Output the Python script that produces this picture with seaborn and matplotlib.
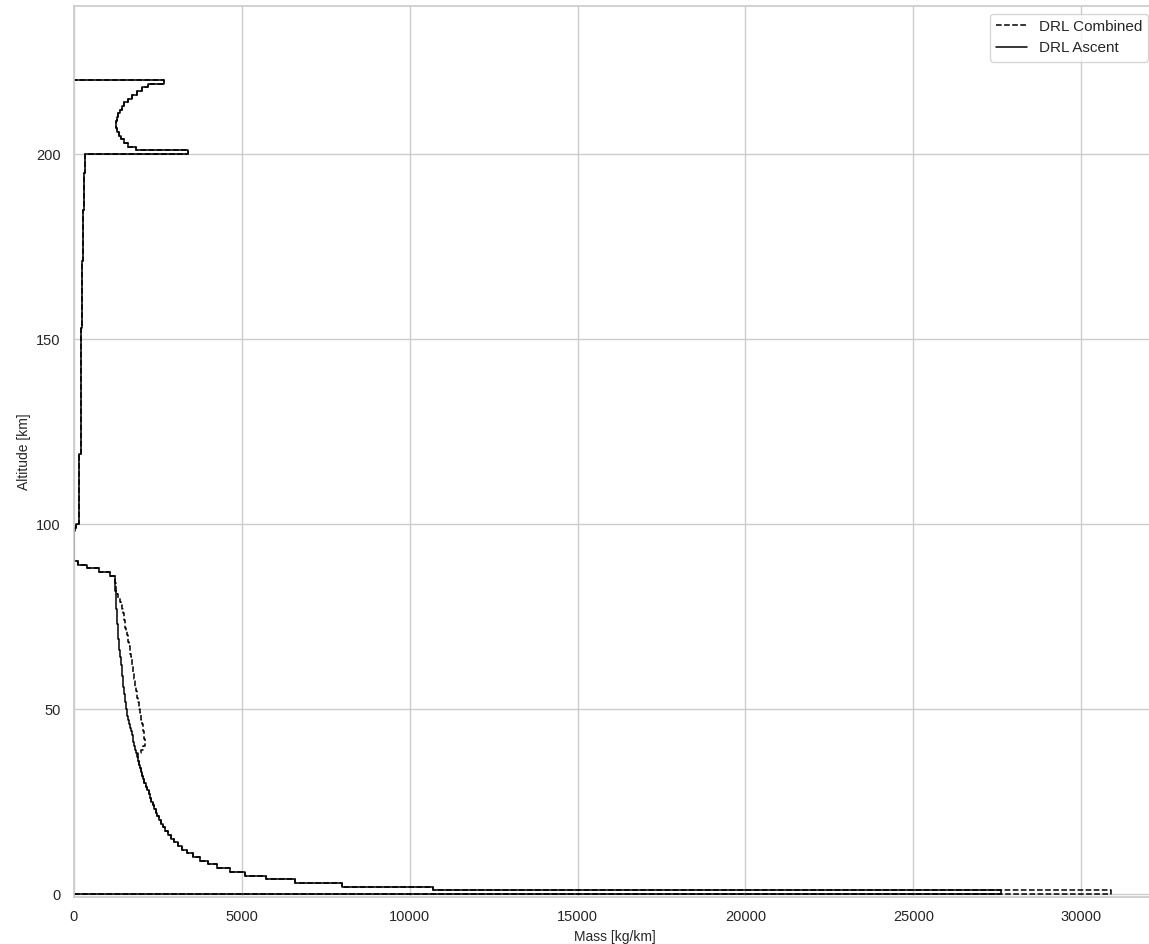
import numpy as np
import pandas as pd
import matplotlib
matplotlib.use("Agg")
import matplotlib.pyplot as plt
import seaborn as sns

# Mass deposited per 1 km altitude bin (bin i spans i..i+1 km), DRL ascent trajectory
ascent_mass = [
    27600, 10700, 7970, 6580, 5720, 5090, 4650, 4250, 4000, 3750,      # 0-9
    3550, 3380, 3230, 3100, 2990, 2890, 2800, 2720, 2650, 2590,        # 10-19
    2530, 2480, 2430, 2380, 2340, 2300, 2260, 2220, 2180, 2140,        # 20-29
    2100, 2070, 2040, 2000, 1970, 1940, 1900, 1870, 1845, 1820,        # 30-39
    1795, 1770, 1745, 1720, 1690, 1660, 1635, 1610, 1590, 1570,        # 40-49
    1550, 1535, 1520, 1505, 1495, 1480, 1470, 1460, 1450, 1440,        # 50-59
    1430, 1420, 1410, 1400, 1385, 1370, 1355, 1345, 1335, 1325,        # 60-69
    1315, 1305, 1300, 1290, 1285, 1280, 1270, 1265, 1255, 1250,        # 70-79
    1245, 1240, 1235, 1230, 1225, 1220, 1070, 740, 390, 110,           # 80-89
    8, 8, 8, 8, 8, 8, 8, 8, 30, 60,                                    # 90-99
    150, 150, 150, 150, 150, 150, 150, 150, 150, 150,                  # 100-109
    150, 150, 150, 150, 150, 150, 150, 150, 150, 200,                  # 110-119
    200, 200, 200, 200, 200, 200, 200, 200, 200, 200,                  # 120-129
    200, 200, 200, 200, 200, 200, 200, 200, 200, 200,                  # 130-139
    200, 200, 200, 200, 200, 200, 200, 200, 200, 200,                  # 140-149
    200, 200, 200, 230, 230, 230, 230, 230, 230, 230,                  # 150-159
    230, 230, 230, 230, 230, 230, 230, 230, 230, 230,                  # 160-169
    230, 260, 260, 260, 260, 260, 260, 260, 260, 260,                  # 170-179
    260, 260, 260, 260, 260, 300, 300, 300, 300, 300,                  # 180-189
    300, 300, 300, 300, 300, 320, 320, 320, 320, 320,                  # 190-199
    3400, 1850, 1620, 1500, 1400, 1330, 1290, 1260, 1250, 1270,        # 200-209
    1310, 1360, 1420, 1500, 1600, 1720, 1870, 2020, 2200, 2690,        # 210-219
]

# Combined trajectory: lowest bin and the 37-85 km band differ from the ascent
combined_ground_mass = 30900
combined_band_start = 37
combined_band_mass = [
    1900, 1990, 2070, 2105, 2110, 2100, 2085, 2065, 2045, 2025,        # 37-46
    2005, 1985, 1965, 1945, 1925, 1905, 1885, 1865, 1850, 1830,        # 47-56
    1815, 1800, 1785, 1770, 1755, 1740, 1720, 1700, 1680, 1660,        # 57-66
    1640, 1615, 1595, 1575, 1550, 1530, 1510, 1490, 1475, 1455,        # 67-76
    1430, 1400, 1360, 1320, 1290, 1260, 1240, 1230, 1220,              # 77-85
]

combined_mass = list(ascent_mass)
combined_mass[0] = combined_ground_mass
combined_mass[combined_band_start:combined_band_start + len(combined_band_mass)] = combined_band_mass


def stair_outline(mass):
    """Outline of a horizontal histogram: baseline -> bins -> baseline."""
    m = np.asarray(mass, dtype=float)
    edges = np.arange(len(m) + 1)
    xs = np.concatenate([[0.0], np.repeat(m, 2), [0.0]])
    ys = np.repeat(edges, 2).astype(float)
    return pd.DataFrame({"Mass [kg/km]": xs, "Altitude [km]": ys})


sns.set_theme(style="whitegrid")
plt.rcParams["font.family"] = ["Liberation Sans", "DejaVu Sans"]

fig = plt.figure(figsize=(11.49, 9.44), dpi=100)
# the axes run slightly past the right edge of the canvas
ax = fig.add_axes([74 / 1149, 47 / 944, 1082 / 1149, 891 / 944])

sns.lineplot(data=stair_outline(combined_mass), x="Mass [kg/km]", y="Altitude [km]",
             sort=False, estimator=None, color="black", linestyle="--",
             linewidth=1.1, label="DRL Combined", ax=ax)
sns.lineplot(data=stair_outline(ascent_mass), x="Mass [kg/km]", y="Altitude [km]",
             sort=False, estimator=None, color="black", linestyle="-",
             linewidth=1.1, label="DRL Ascent", ax=ax)

ax.set_xlim(0, 32230)
ax.set_ylim(-0.8, 240)
ax.set_xticks([0, 5000, 10000, 15000, 20000, 25000, 30000])
ax.set_yticks([0, 50, 100, 150, 200])
ax.tick_params(labelsize=10.5)
ax.set_xlabel("Mass [kg/km]", fontsize=10)
ax.set_ylabel("Altitude [km]", fontsize=10)
ax.legend(loc="upper right", fontsize=11)

fig.savefig("out.png", dpi=100)
